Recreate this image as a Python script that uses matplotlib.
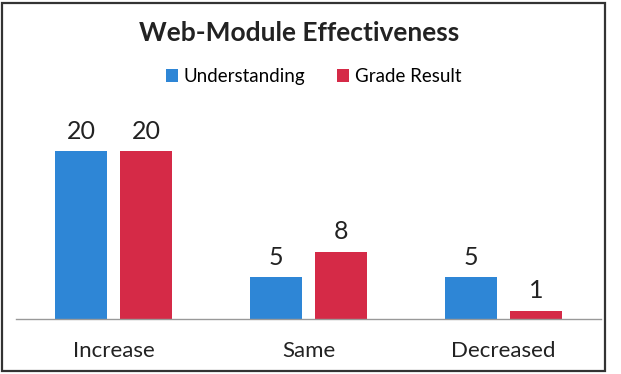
import matplotlib
matplotlib.use('Agg')
import matplotlib.pyplot as plt
import numpy as np
from matplotlib.patches import Rectangle

# Data
categories = ["Increase", "Same", "Decreased"]
understanding = [20, 5, 5]
grade_result = [20, 8, 1]
series_names = ["Understanding", "Grade Result"]

BLUE = "#2e86d6"
RED = "#d52a47"

plt.rcParams['font.family'] = ['Lato', 'DejaVu Sans']

fig = plt.figure(figsize=(6.21, 3.74), dpi=100)
ax = fig.add_axes([0.026, 0.147, 0.942, 0.5615])

x = np.arange(len(categories))
w = 0.267
off = (w + 0.067) / 2
b1 = ax.bar(x - off, understanding, w, color=BLUE, label=series_names[0])
b2 = ax.bar(x + off, grade_result, w, color=RED, label=series_names[1])

for bars in (b1, b2):
    for r in bars:
        ax.text(r.get_x() + r.get_width() / 2, r.get_height() + 1.0,
                f"{int(r.get_height())}", ha="center", va="bottom",
                fontsize=18, color="#222222")

ax.set_xlim(-0.5, 2.5)
ax.set_ylim(0, 25)
ax.set_yticks([])
ax.set_xticks(x)
ax.set_xticklabels(categories, fontsize=16, color="#222222")
ax.tick_params(axis="x", length=0, pad=16)
for s in ("top", "left", "right"):
    ax.spines[s].set_visible(False)
ax.spines["bottom"].set_color("#999999")
ax.spines["bottom"].set_linewidth(1.0)

fig.text(0.482, 0.912, "Web-Module Effectiveness", ha="center", va="center",
         fontsize=19, fontweight="bold", color="#222222")
fig.legend(handles=[b1, b2], labels=series_names, loc="center",
           bbox_to_anchor=(0.505, 0.795), ncol=2, frameon=False,
           fontsize=13.5, handlelength=0.65, handleheight=0.65,
           handletextpad=0.3, columnspacing=1.7)

# outer frame of the chart area
fig.patches.append(Rectangle((0.003, 0.008), 0.972, 0.984, transform=fig.transFigure,
                             fill=False, edgecolor="#333333", linewidth=1.6))

fig.savefig("out.png", dpi=100)
